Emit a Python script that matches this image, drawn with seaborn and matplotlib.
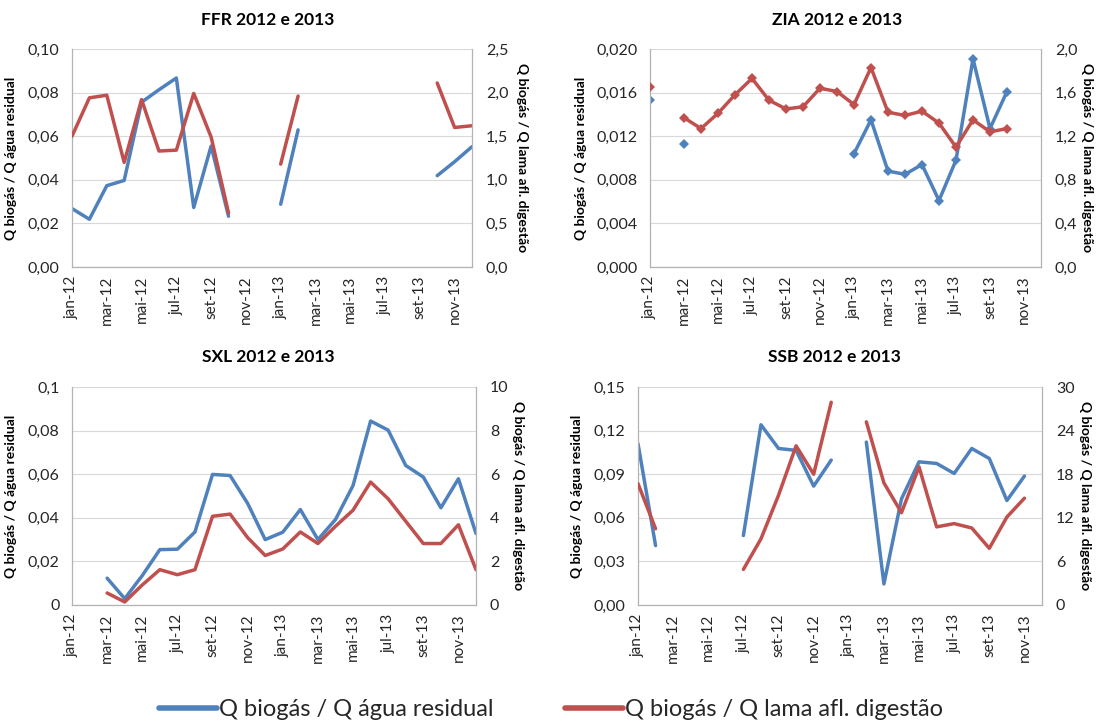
import numpy as np
import pandas as pd
import matplotlib
matplotlib.use("Agg")
import matplotlib.pyplot as plt
import seaborn as sns
from matplotlib.lines import Line2D
from matplotlib.ticker import FixedLocator, FuncFormatter

# Monthly axis (jan-12 .. dez-13); every second month is labelled
months = ["jan-12", "fev-12", "mar-12", "abr-12", "mai-12", "jun-12",
          "jul-12", "ago-12", "set-12", "out-12", "nov-12", "dez-12",
          "jan-13", "fev-13", "mar-13", "abr-13", "mai-13", "jun-13",
          "jul-13", "ago-13", "set-13", "out-13", "nov-13", "dez-13"]
nan = np.nan

# FFR
ffr_agua = [0.0268, 0.0219, 0.0373, 0.0397, 0.0756, 0.0813, 0.0867, 0.0273,
            0.0555, 0.0233, nan, nan, 0.0288, 0.0629, nan, nan, nan, nan,
            nan, nan, nan, 0.0419, 0.0483, 0.0552]
ffr_lama = [1.50, 1.94, 1.97, 1.20, 1.92, 1.33, 1.34, 1.99, 1.49, 0.62,
            nan, nan, 1.18, 1.96, nan, nan, nan, nan, nan, nan, nan,
            2.11, 1.60, 1.62]

# ZIA
zia_agua = [0.0153, nan, 0.0113, nan, nan, nan, nan, nan, nan, nan, nan,
            nan, 0.0104, 0.0135, 0.0088, 0.0085, 0.0094, 0.0061, 0.0098,
            0.0191, 0.0127, 0.0161, nan, nan]
zia_lama = [1.65, nan, 1.37, 1.27, 1.41, 1.58, 1.73, 1.53, 1.45, 1.47,
            1.64, 1.61, 1.49, 1.83, 1.42, 1.39, 1.43, 1.32, 1.10, 1.35,
            1.24, 1.27, nan, nan]

# SXL
sxl_agua = [nan, nan, 0.0123, 0.0029, 0.0135, 0.0254, 0.0256, 0.0335,
            0.0599, 0.0594, 0.0466, 0.0300, 0.0334, 0.0438, 0.0300, 0.0392,
            0.0548, 0.0844, 0.0802, 0.0640, 0.0587, 0.0446, 0.0579, 0.0328]
sxl_lama = [nan, nan, 0.55, 0.14, 0.92, 1.62, 1.39, 1.62, 4.07, 4.17,
            3.09, 2.27, 2.57, 3.35, 2.82, 3.61, 4.35, 5.64, 4.87, 3.84,
            2.82, 2.82, 3.68, 1.62]

# SSB
ssb_agua = [0.111, 0.0409, nan, nan, nan, nan, 0.0478, 0.124, 0.1077,
            0.1064, 0.0818, 0.0997, nan, 0.1121, 0.0145, 0.073, 0.0985,
            0.0974, 0.0905, 0.1077, 0.1008, 0.0719, 0.0887, nan]
ssb_lama = [16.7, 10.5, nan, nan, nan, nan, 4.9, 9.1, 15.1, 21.9, 18.0,
            27.9, nan, 25.2, 16.8, 12.7, 19.0, 10.75, 11.2, 10.6, 7.8,
            12.1, 14.7, nan]

label_agua = "Q biogás / Q água residual"
label_lama = "Q biogás / Q lama afl. digestão"

BLUE = "#4F81BD"
RED = "#C0504D"
GRID = "#D9D9D9"
SPINE = "#B3B3B3"
TEXT = "#262626"

sns.set_style("white")
plt.rcParams["font.family"] = ["Lato", "DejaVu Sans"]

W, H = 1101, 725
fig = plt.figure(figsize=(W / 100, H / 100), dpi=100)


def px_rect(left, right, top, bottom):
    return [left / W, 1 - bottom / H, (right - left) / W, (bottom - top) / H]


def comma_fmt(fmt):
    return FuncFormatter(lambda v, _: format(v, fmt).replace(".", ","))


def segments(values):
    """Long-format frame with a segment id so gaps stay open."""
    vals = np.asarray(values, dtype=float)
    seg = np.cumsum(np.isnan(vals))
    df = pd.DataFrame({"mes": np.arange(len(vals)), "valor": vals, "seg": seg})
    return df.dropna()


panels = [
    dict(title="FFR 2012 e 2013", agua=ffr_agua, lama=ffr_lama,
         rect=px_rect(72, 472, 49, 267), title_xy=(268, 20),
         lmax=0.10, lstep=0.02, lfmt=".2f", rmax=2.5, rstep=0.5, rfmt=".1f",
         lab_l=17, lab_r=522, marker=None),
    dict(title="ZIA 2012 e 2013", agua=zia_agua, lama=zia_lama,
         rect=px_rect(650, 1041, 49, 267), title_xy=(837, 20),
         lmax=0.020, lstep=0.004, lfmt=".3f", rmax=2.0, rstep=0.4, rfmt=".1f",
         lab_l=587, lab_r=1087, marker="D"),
    dict(title="SXL 2012 e 2013", agua=sxl_agua, lama=sxl_lama,
         rect=px_rect(72, 476, 387, 605), title_xy=(268, 357),
         lmax=0.1, lstep=0.02, lfmt="g", rmax=10, rstep=2, rfmt="g",
         lab_l=17, lab_r=518, marker=None),
    dict(title="SSB 2012 e 2013", agua=ssb_agua, lama=ssb_lama,
         rect=px_rect(638, 1042, 387, 605), title_xy=(834, 357),
         lmax=0.15, lstep=0.03, lfmt=".2f", rmax=30, rstep=6, rfmt="g",
         lab_l=583, lab_r=1085, marker=None),
]

for p in panels:
    ax = fig.add_axes(p["rect"])
    ax2 = ax.twinx()

    mk = dict(marker=p["marker"], markersize=5.5, markeredgewidth=0) if p["marker"] else {}
    sns.lineplot(data=segments(p["agua"]), x="mes", y="valor", units="seg",
                 estimator=None, color=BLUE, linewidth=2.5, ax=ax, **mk)
    sns.lineplot(data=segments(p["lama"]), x="mes", y="valor", units="seg",
                 estimator=None, color=RED, linewidth=2.5, ax=ax2, **mk)

    ax.set_xlim(0, len(months) - 1)
    ax.set_xticks(range(0, len(months), 2))
    ax.set_xticklabels(months[::2], rotation=90)

    lticks = np.arange(0, p["lmax"] + p["lstep"] / 2, p["lstep"])
    rticks = np.arange(0, p["rmax"] + p["rstep"] / 2, p["rstep"])
    ax.set_ylim(0, p["lmax"])
    ax2.set_ylim(0, p["rmax"])
    ax.yaxis.set_major_locator(FixedLocator(lticks))
    ax2.yaxis.set_major_locator(FixedLocator(rticks))
    ax.yaxis.set_major_formatter(comma_fmt(p["lfmt"]))
    ax2.yaxis.set_major_formatter(comma_fmt(p["rfmt"]))

    ax.grid(axis="y", color=GRID, linewidth=0.8)
    ax.set_axisbelow(True)
    ax.set_zorder(ax2.get_zorder() - 1)
    ax2.patch.set_visible(False)
    ax.patch.set_visible(False)

    for a in (ax, ax2):
        a.spines["top"].set_visible(False)
        for side in ("left", "right", "bottom"):
            a.spines[side].set_color(SPINE)
            a.spines[side].set_linewidth(0.9)
    ax.spines["right"].set_visible(False)
    ax2.spines["left"].set_visible(False)
    ax2.spines["bottom"].set_visible(False)

    ax.tick_params(axis="y", length=0, pad=9, labelsize=11.5, labelcolor=TEXT)
    ax.tick_params(axis="x", length=0, pad=6, labelsize=11, labelcolor=TEXT)
    ax2.tick_params(axis="y", length=0, pad=10, labelsize=11.5, labelcolor=TEXT)

    ax.set_xlabel("")
    ax.set_ylabel(label_agua, fontsize=10, fontweight="bold", color="black")
    ax2.set_ylabel(label_lama, fontsize=10, fontweight="bold", color="black",
                   rotation=270, va="center")
    x0 = p["rect"][0] * W
    wpx = p["rect"][2] * W
    ax.yaxis.set_label_coords((p["lab_l"] - x0) / wpx, 0.5)
    ax2.yaxis.set_label_coords((p["lab_r"] - x0) / wpx, 0.5)

    fig.text(p["title_xy"][0] / W, 1 - p["title_xy"][1] / H, p["title"],
             ha="center", va="center", fontsize=12.5, fontweight="bold",
             color="black")

handles = [Line2D([], [], color=BLUE, linewidth=4),
           Line2D([], [], color=RED, linewidth=4)]
fig.legend(handles, [label_agua, label_lama], loc="center",
           bbox_to_anchor=(551 / W, 1 - 710 / H), ncol=2, frameon=False,
           fontsize=17, handlelength=2.45, handletextpad=0.1,
           columnspacing=3.0, labelcolor=TEXT)

fig.savefig("out.png", dpi=100, facecolor="white")
